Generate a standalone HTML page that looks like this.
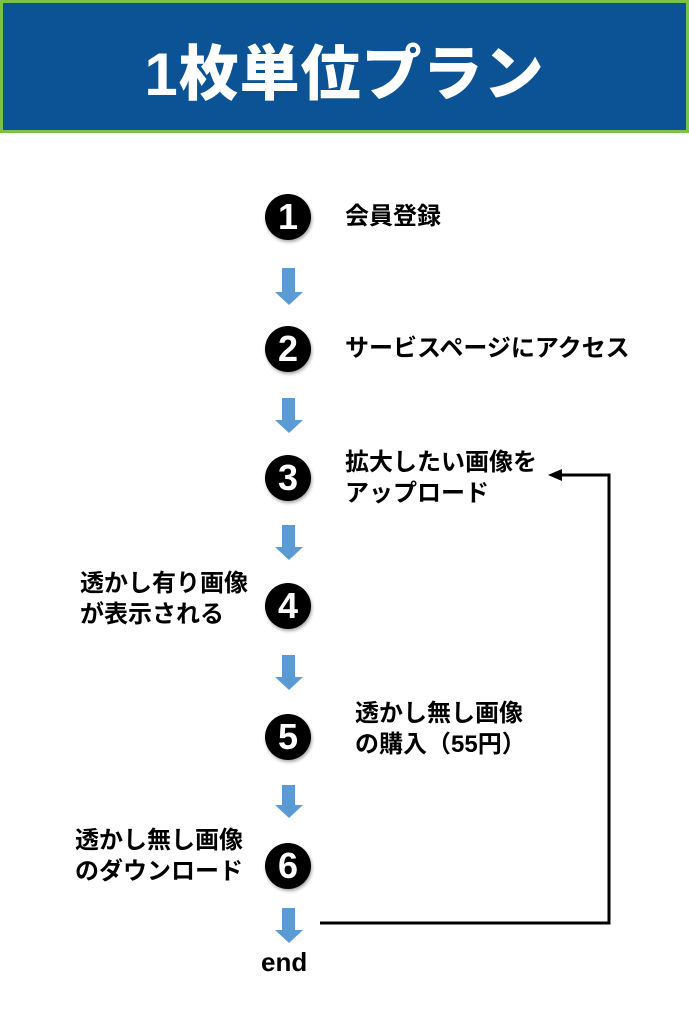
<!DOCTYPE html>
<html><head><meta charset="utf-8"><style>
body{margin:0;width:689px;height:1024px;background:#fff;position:relative;overflow:hidden;font-family:"Liberation Sans","Noto Sans CJK JP",sans-serif;}
.hdr{position:absolute;left:0;top:0;width:683px;height:127px;background:#0b5394;border:3px solid #7cc24a;}
.hdr div{position:absolute;left:0;right:0;top:37px;text-align:center;color:#fff;font-weight:900;font-size:60px;line-height:70px;letter-spacing:1px;}
.c{position:absolute;width:46px;height:46px;border-radius:50%;background:#000;color:#fff;font-weight:bold;font-size:36px;line-height:46px;text-align:center;left:265px;box-shadow:1px 2px 3px rgba(0,0,0,.35);}
.t{position:absolute;font-weight:bold;font-size:24px;line-height:31px;color:#000;white-space:nowrap;}
</style></head><body>
<div class="hdr"><div>1枚単位プラン</div></div>
<div class="c" style="top:194px">1</div>
<div class="c" style="top:326px">2</div>
<div class="c" style="top:455px">3</div>
<div class="c" style="top:583px">4</div>
<div class="c" style="top:714px">5</div>
<div class="c" style="top:843px">6</div>
<div class="t" style="left:345px;top:201px">会員登録</div>
<div class="t" style="left:345px;top:333px">サービスページにアクセス</div>
<div class="t" style="left:345px;top:447px">拡大したい画像を<br>アップロード</div>
<div class="t" style="left:80px;top:568px">透かし有り画像<br>が表示される</div>
<div class="t" style="left:355px;top:698px">透かし無し画像<br>の購入（55円）</div>
<div class="t" style="left:75px;top:825px">透かし無し画像<br>のダウンロード</div>
<div class="t" style="left:261px;top:947px;font-size:26px">end</div>
<svg width="689" height="1024" style="position:absolute;left:0;top:0">
<g fill="#5b9bd5">
<path d="M282 268h13v24h8l-14 13l-14-13h7z"/>
<path d="M282 398h13v22h8l-14 13l-14-13h7z"/>
<path d="M282 525h13v22h8l-14 13l-14-13h7z"/>
<path d="M282 655h13v22h8l-14 13l-14-13h7z"/>
<path d="M282 785h13v20h8l-14 13l-14-13h7z"/>
<path d="M282 908h13v22h8l-14 13l-14-13h7z"/>
</g>
<path d="M320 923H609V475H560" fill="none" stroke="#000" stroke-width="3"/>
<path d="M548 475l14-6v12z" fill="#000"/>
</svg>
</body></html>
